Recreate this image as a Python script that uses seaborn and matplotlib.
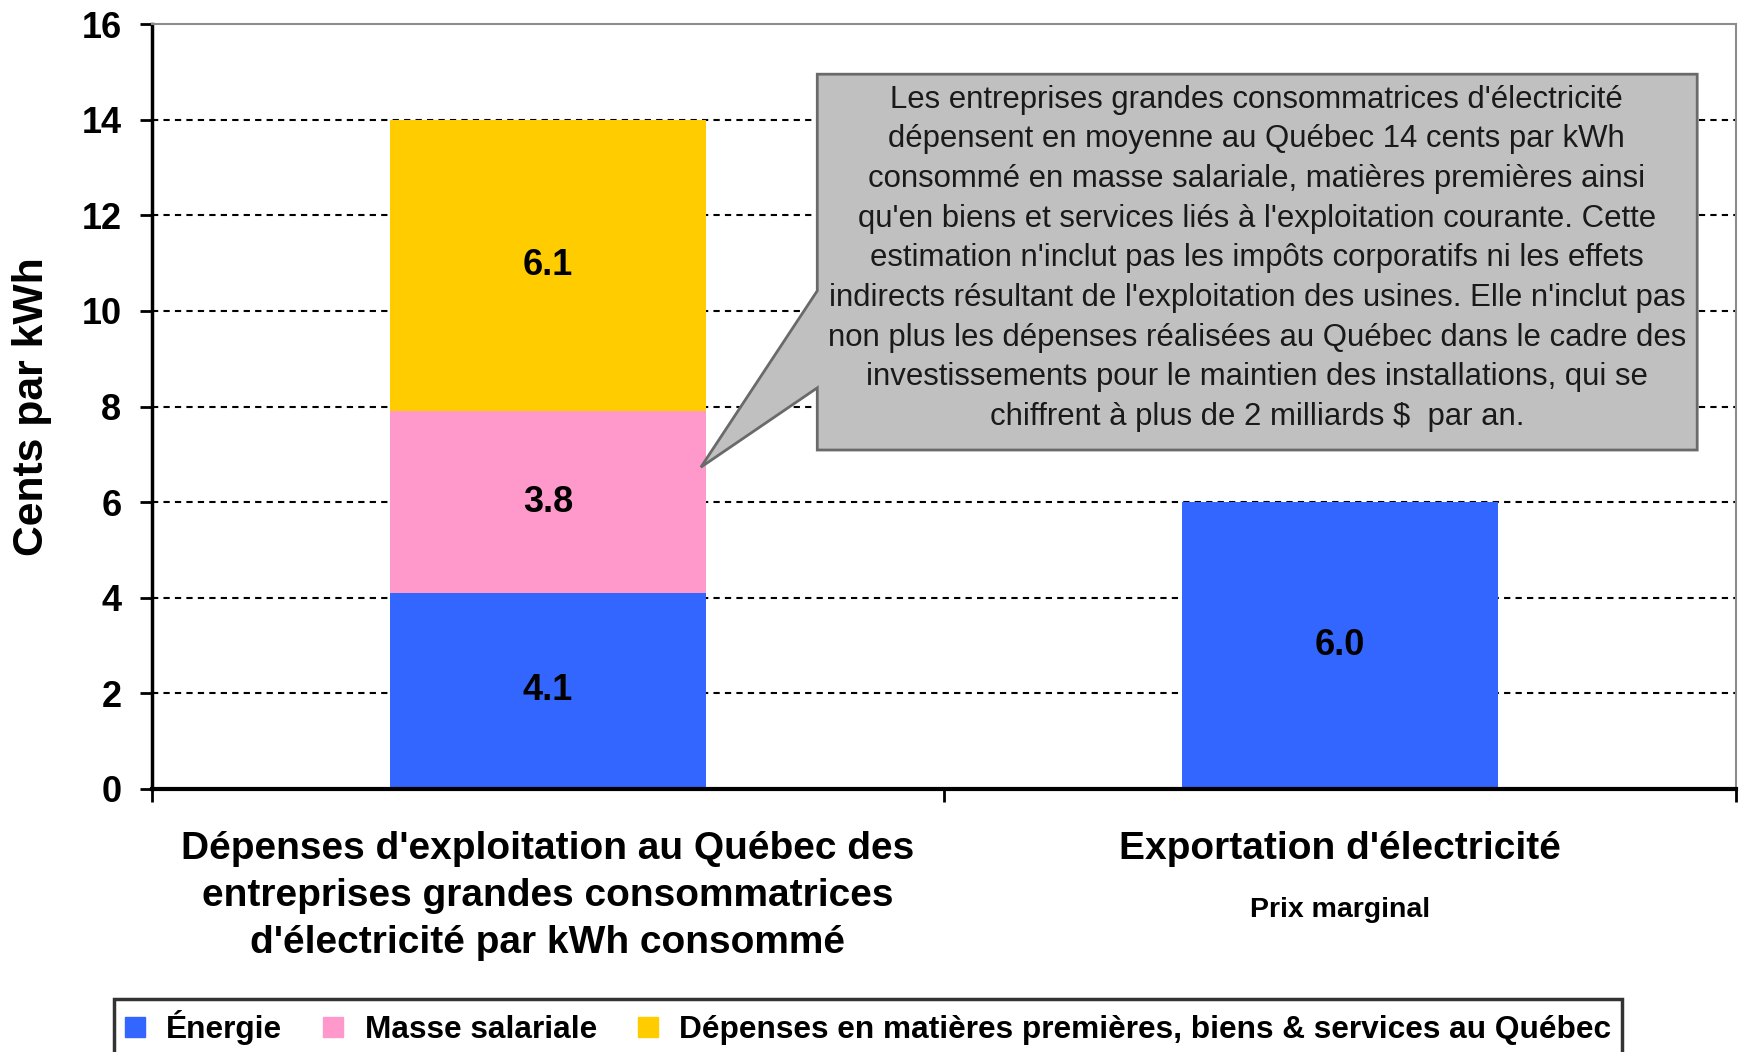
import matplotlib
matplotlib.use("Agg")
import matplotlib.pyplot as plt
import seaborn as sns
import numpy as np
import pandas as pd
from matplotlib.patches import Polygon
from matplotlib.lines import Line2D

# Données (cents par kWh)
categories = ["Dépenses d'exploitation au Québec des\nentreprises grandes consommatrices\nd'électricité par kWh consommé",
              "Exportation d'électricité"]
energie = [4.1, 6.0]
masse = [3.8, 0.0]
depenses = [6.1, 0.0]
series = ["Énergie", "Masse salariale",
          "Dépenses en matières premières, biens & services au Québec"]
couleurs = ["#3366FF", "#FF99CC", "#FFCC00"]
yticks = [0, 2, 4, 6, 8, 10, 12, 14, 16]

note = ("Les entreprises grandes consommatrices d'électricité\n"
        "dépensent en moyenne au Québec 14 cents par kWh\n"
        "consommé en masse salariale, matières premières ainsi\n"
        "qu'en biens et services liés à l'exploitation courante. Cette\n"
        "estimation n'inclut pas les impôts corporatifs ni les effets\n"
        "indirects résultant de l'exploitation des usines. Elle n'inclut pas\n"
        "non plus les dépenses réalisées au Québec dans le cadre des\n"
        "investissements pour le maintien des installations, qui se\n"
        "chiffrent à plus de 2 milliards $  par an.")

sns.set_theme(style="white")
plt.rcParams['font.family'] = ['Liberation Sans', 'DejaVu Sans']
plt.rcParams['text.color'] = 'black'
plt.rcParams['axes.labelcolor'] = 'black'
plt.rcParams['xtick.color'] = 'black'
plt.rcParams['ytick.color'] = 'black'

df = pd.DataFrame({"cat": ["A", "B"], "e": energie, "m": masse, "d": depenses})
df["c1"] = df["e"]
df["c2"] = df["e"] + df["m"]
df["c3"] = df["c2"] + df["d"]

fig = plt.figure(figsize=(17.39, 10.52), dpi=100)
ax = fig.add_axes([152/1739, 1-789/1052, 1584/1739, 765/1052])

# barres empilées: on dessine les cumuls du haut vers le bas
for col, c in zip(["c3", "c2", "c1"], couleurs[::-1]):
    sns.barplot(data=df, x="cat", y=col, color=c, width=0.4, saturation=1,
                ax=ax, zorder=2, linewidth=0)

ax.set_xlim(-0.5, 1.5)
ax.set_ylim(0, 16)

for y in yticks[1:-1]:
    ax.axhline(y, color="black", lw=1.5, ls=(0, (3, 2.5)), zorder=1)

# valeurs
bas = [0, 0]
for vals in [energie, masse, depenses]:
    for i, v in enumerate(vals):
        if v > 0:
            ax.text(i, bas[i] + v/2, f"{v:.1f}", ha="center", va="center",
                    fontsize=26, fontweight="bold", zorder=5)
        bas[i] += v

# axes
ax.set_yticks(yticks)
ax.set_yticklabels([str(t) for t in yticks], fontsize=26, fontweight="bold")
ax.tick_params(axis="y", direction="out", length=9, width=2, pad=13, left=True)
ax.set_xticks([-0.5, 0.5, 1.5])
ax.set_xticklabels([])
ax.tick_params(axis="x", which="major", direction="out", length=9, width=2, bottom=True)
ax.set_xticks([0, 1], minor=True)
ax.set_xticklabels(categories, minor=True, fontsize=28, fontweight="bold",
                   linespacing=1.4)
ax.tick_params(axis="x", which="minor", length=0, pad=30)
ax.set_xlabel("")
ax.text(1, -0.158, "Prix marginal", transform=ax.get_xaxis_transform(),
        ha="center", va="center", fontsize=20.5, fontweight="bold")

ax.set_ylabel("Cents par kWh", fontsize=30.7, fontweight="bold")
ax.yaxis.set_label_coords(-0.063, 0.5)

ax.spines["left"].set_color("black")
ax.spines["left"].set_linewidth(2.5)
ax.spines["bottom"].set_color("black")
ax.spines["bottom"].set_linewidth(3)
for s in ["top", "right"]:
    ax.spines[s].set_color("#8c8c8c")
    ax.spines[s].set_linewidth(1.5)

# bulle de commentaire
bulle = [(0.34, 14.95), (1.451, 14.95), (1.451, 7.09), (0.34, 7.09),
         (0.34, 8.39), (0.193, 6.73), (0.34, 10.42)]
ax.add_patch(Polygon(bulle, closed=True, facecolor="#C0C0C0",
                     edgecolor="#6a6a6a", lw=2, zorder=6))
ax.text(0.895, 11.1, note, ha="center", va="center", fontsize=22.4,
        color="#1a1a1a", linespacing=1.42, zorder=7)

# légende
handles = [Line2D([], [], marker="s", ls="", markersize=15, color=c) for c in couleurs]
leg = fig.legend(handles, series, loc="lower left", bbox_to_anchor=(114/1739, -0.004),
                 ncol=3, frameon=True, fancybox=False, borderaxespad=0,
                 prop={"size": 22.8, "weight": "bold"}, handlelength=0.6,
                 handletextpad=0.7, columnspacing=1.3, borderpad=0.35)
leg.get_frame().set_edgecolor("black")
leg.get_frame().set_linewidth(2.5)

fig.savefig("out.png", dpi=100)
